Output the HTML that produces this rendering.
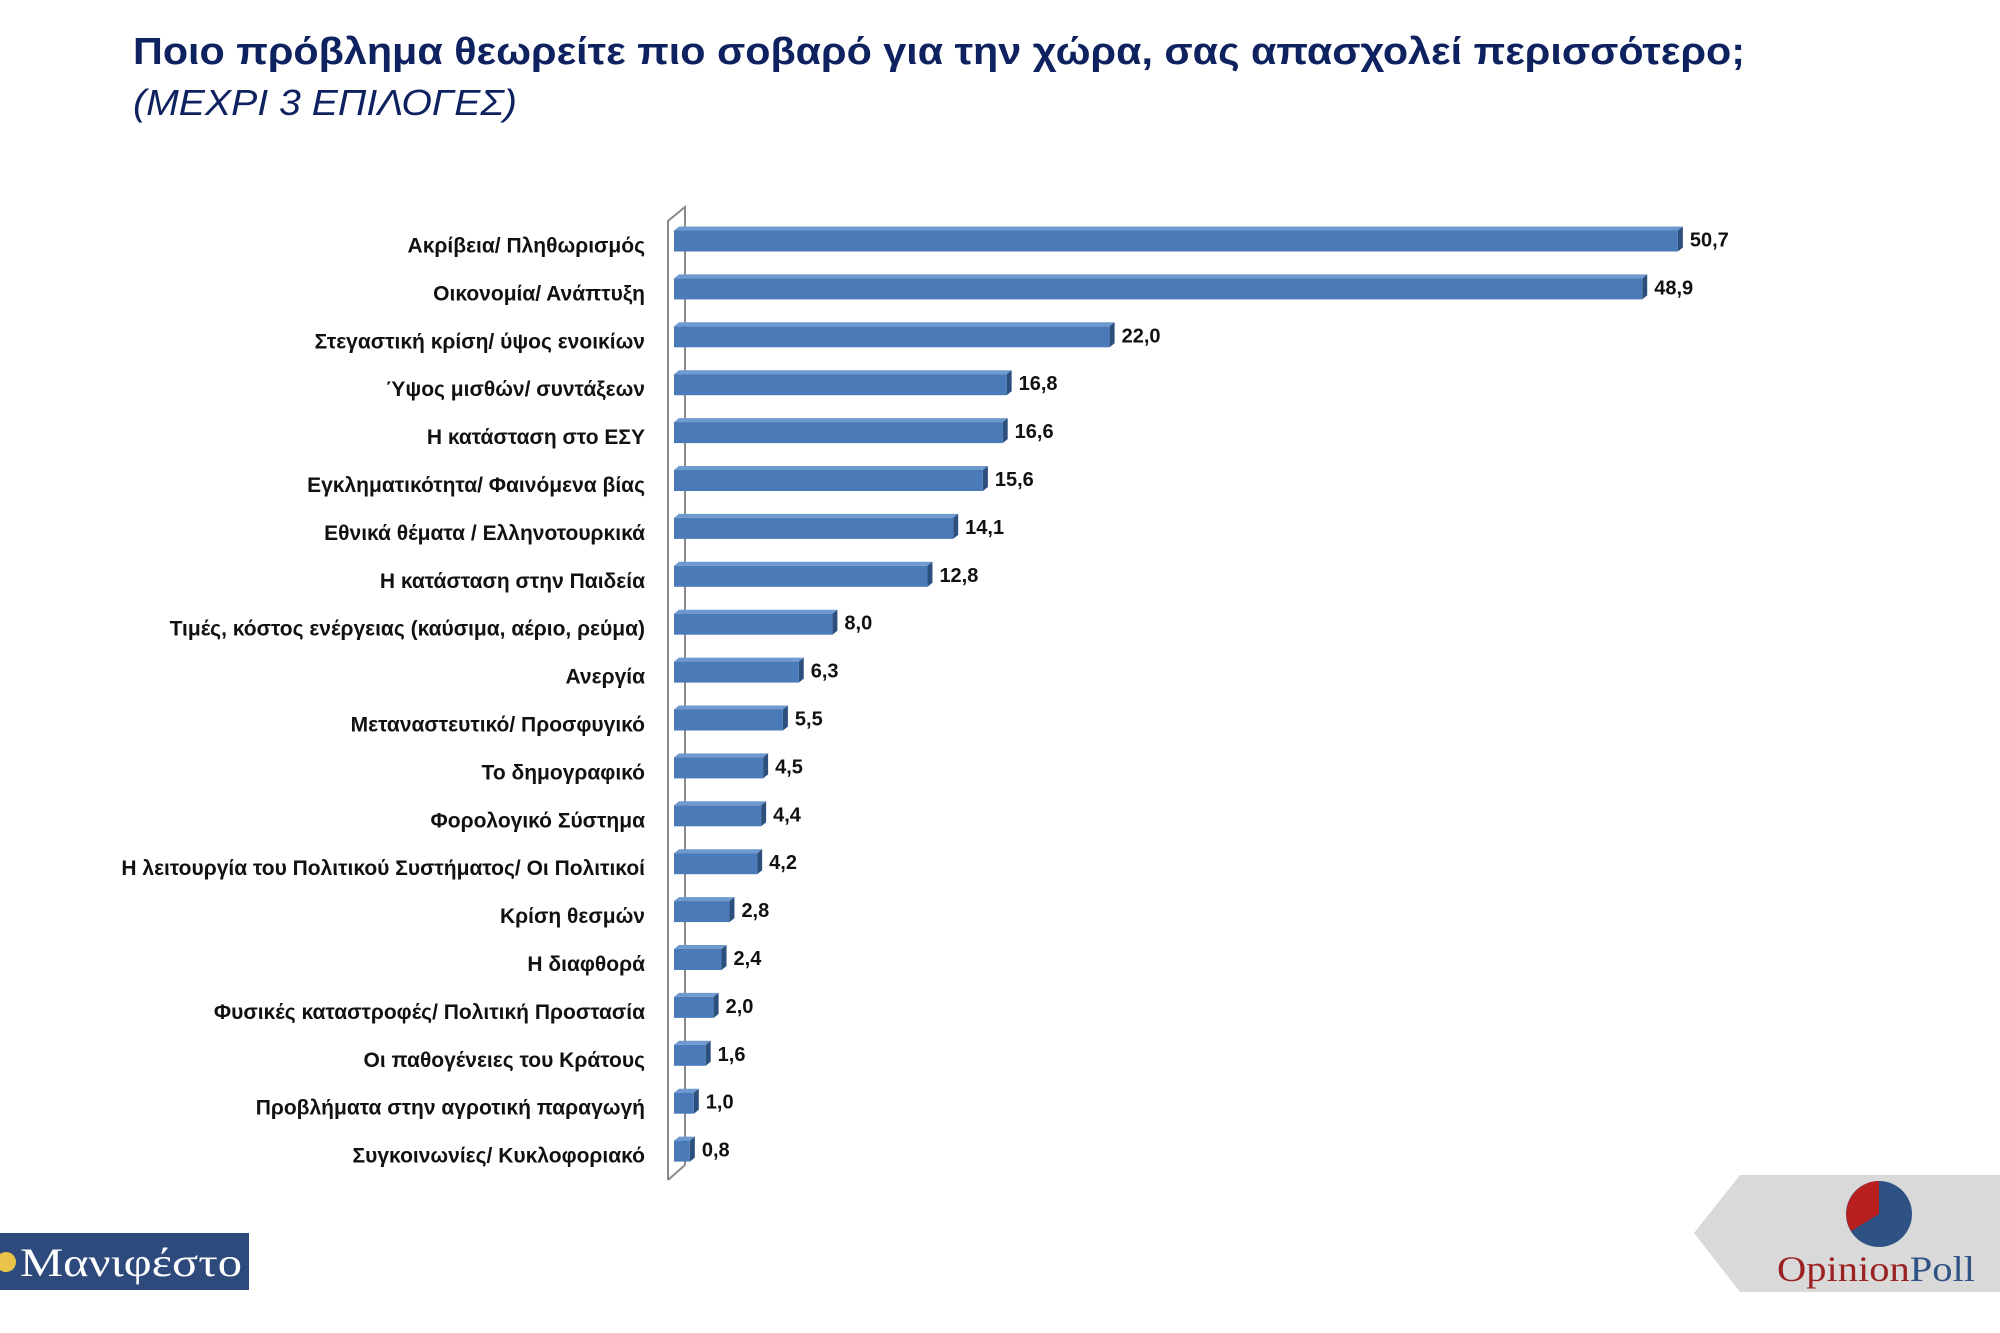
<!DOCTYPE html>
<html><head><meta charset="utf-8"><style>
html,body{margin:0;padding:0;background:#fff;width:2000px;height:1333px;overflow:hidden}
svg{display:block}
</style></head><body>
<svg width="2000" height="1333" viewBox="0 0 2000 1333" xmlns="http://www.w3.org/2000/svg">
<text x="133" y="64" font-family="Liberation Sans, sans-serif" font-weight="bold" font-size="38" fill="#0f2260" textLength="1612" lengthAdjust="spacingAndGlyphs">Ποιο πρόβλημα θεωρείτε πιο σοβαρό για την χώρα, σας απασχολεί περισσότερο;</text>
<text x="133" y="115" font-family="Liberation Sans, sans-serif" font-style="italic" font-size="36" fill="#0f2260" textLength="384" lengthAdjust="spacingAndGlyphs">(ΜΕΧΡΙ 3 ΕΠΙΛΟΓΕΣ)</text>
<g stroke="#8a8a8a" stroke-width="2" fill="none">
<polyline points="668,1180 668,221 685,207 685,1165"/>
<line x1="668" y1="1180" x2="685" y2="1165"/>
</g>
<g id="bars" font-family="Liberation Sans, sans-serif" font-weight="bold" font-size="19" fill="#111">
</g>
<polygon points="1694,1233 1740,1175 2000,1175 2000,1292 1740,1292" fill="#d9d9d9"/>
<circle cx="1879" cy="1214" r="33" fill="#2f5285"/>
<path d="M1879,1214 L1879,1181 A33,33 0 0 0 1851,1231 Z" fill="#b81f1f"/>
<text x="1777" y="1281" font-family="Liberation Serif, serif" font-size="36" fill="#9b2222" textLength="198" lengthAdjust="spacingAndGlyphs">Opinion<tspan fill="#2f5285">Poll</tspan></text>
<rect x="0" y="1233" width="249" height="57" fill="#2e4a7c"/>
<circle cx="6" cy="1262" r="10" fill="#e8c54a"/>
<text x="20" y="1276" font-family="Liberation Serif, serif" font-size="40" fill="#fff" textLength="222" lengthAdjust="spacingAndGlyphs">Μανιφέστο</text>
</svg>
<script>
var d=[["Ακρίβεια/ Πληθωρισμός",50.7],["Οικονομία/ Ανάπτυξη",48.9],["Στεγαστική κρίση/ ύψος ενοικίων",22.0],["Ύψος μισθών/ συντάξεων",16.8],["Η κατάσταση στο ΕΣΥ",16.6],["Εγκληματικότητα/ Φαινόμενα βίας",15.6],["Εθνικά θέματα / Ελληνοτουρκικά",14.1],["Η κατάσταση στην Παιδεία",12.8],["Τιμές, κόστος ενέργειας (καύσιμα, αέριο, ρεύμα)",8.0],["Ανεργία",6.3],["Μεταναστευτικό/ Προσφυγικό",5.5],["Το δημογραφικό",4.5],["Φορολογικό Σύστημα",4.4],["Η λειτουργία του Πολιτικού Συστήματος/ Οι Πολιτικοί",4.2],["Κρίση θεσμών",2.8],["Η διαφθορά",2.4],["Φυσικές καταστροφές/ Πολιτική Προστασία",2.0],["Οι παθογένειες του Κράτους",1.6],["Προβλήματα στην αγροτική παραγωγή",1.0],["Συγκοινωνίες/ Κυκλοφοριακό",0.8]];
var g=document.getElementById('bars'),h='';
d.forEach(function(r,i){var c=240.5+47.9*i,x0=674,x1=x0+r[1]*19.8;
h+='<polygon points="'+x0+','+(c-10)+' '+(x0+5)+','+(c-14)+' '+(x1+5)+','+(c-14)+' '+x1+','+(c-10)+'" fill="#6f9ad0"/>';
h+='<polygon points="'+x1+','+(c-10)+' '+(x1+5)+','+(c-14)+' '+(x1+5)+','+(c+7)+' '+x1+','+(c+11)+'" fill="#2c4f7e"/>';
h+='<rect x="'+x0+'" y="'+(c-10)+'" width="'+(x1-x0)+'" height="21" fill="#4a7ab8"/>';
h+='<text x="645" y="'+(c+12)+'" text-anchor="end" font-size="21">'+r[0]+'</text>';
h+='<text x="'+(x1+12)+'" y="'+(c+6)+'" font-size="20">'+r[1].toFixed(1).replace('.',',')+'</text>';});
g.innerHTML=h;
</script>
</body></html>
